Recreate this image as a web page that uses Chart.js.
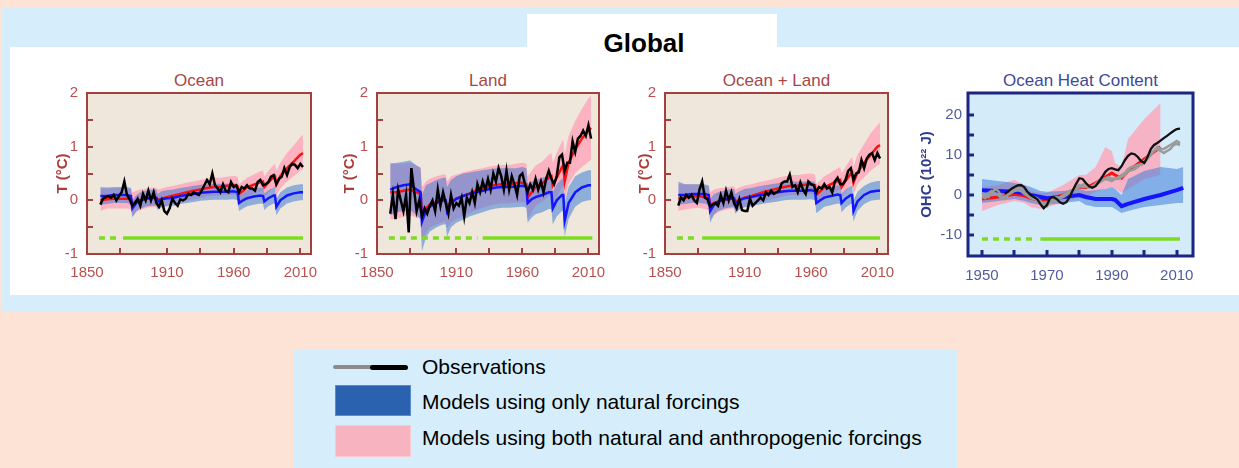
<!DOCTYPE html>
<html>
<head>
<meta charset="utf-8">
<script src="https://cdn.jsdelivr.net/npm/chart.js@4.4.1/dist/chart.umd.min.js"></script>
<style>
  body { margin: 0; width: 1239px; height: 468px; overflow: hidden; background: #fde3d5; font-family: "Liberation Sans", Arial, sans-serif; position: relative; }
  .abs { position: absolute; }
  #bluebox { left: 2px; top: 7px; width: 1237px; height: 304px; background: #d6eefb; }
  #white { left: 10px; top: 47px; width: 1229px; height: 248px; background: #fff; }
  #tab { left: 527px; top: 14px; width: 250px; height: 34px; background: #fff; }
  #global { left: 527px; top: 27px; width: 234px; text-align: center; font-weight: bold; font-size: 26px; line-height: 32px; color: #000; }
  .ptitle { top: 70px; height: 22px; line-height: 22px; text-align: center; font-size: 17px; }
  canvas { position: absolute; top: 85px; }
  #legend { left: 294px; top: 349px; width: 664px; height: 130px; background: #d6eefb; }
  .ltext { left: 422px; font-size: 21px; line-height: 24px; color: #000; }
</style>
</head>
<body>
<div class="abs" id="bluebox"></div>
<div class="abs" id="white"></div>
<div class="abs" id="tab"></div>
<div class="abs" id="global">Global</div>

<div class="abs ptitle" style="left:87px;width:224px;color:#a84646;">Ocean</div>
<div class="abs ptitle" style="left:377px;width:222px;color:#a84646;">Land</div>
<div class="abs ptitle" style="left:665px;width:223px;color:#a84646;">Ocean + Land</div>
<div class="abs ptitle" style="left:968px;width:225px;color:#3d4a94;">Ocean Heat Content</div>

<canvas id="ocean" width="282" height="195" style="left:40px"></canvas>
<canvas id="land" width="280" height="195" style="left:330px"></canvas>
<canvas id="oland" width="281" height="195" style="left:618px"></canvas>
<canvas id="ohc" width="299" height="195" style="left:905px"></canvas>

<div class="abs" id="legend"></div>
<div class="abs" style="left:333px;top:365px;width:40px;height:4px;background:#8c8c8c;border-radius:2px;"></div>
<div class="abs" style="left:370px;top:365px;width:38px;height:5px;background:#000;border-radius:3px;"></div>
<div class="abs" style="left:335px;top:385px;width:74px;height:29px;background:#2b62b0;border:1px solid #5a8ad0;"></div>
<div class="abs" style="left:335px;top:425px;width:74px;height:30px;background:#f8b3c1;border:1px solid #fbc8d2;"></div>
<div class="abs ltext" style="top:355px;">Observations</div>
<div class="abs ltext" style="top:390px;">Models using only natural forcings</div>
<div class="abs ltext" style="top:426px;">Models using both natural and anthropogenic forcings</div>

<script>
// --- years ---
const obsYears = [1860,1862,1864,1866,1868,1870,1872,1874,1876,1878,
  1880,1882,1884,1886,1888,1890,1892,1894,1896,1898,
  1900,1902,1904,1906,1908,1910,1912,1914,1916,1918,
  1920,1922,1924,1926,1928,1930,1932,1934,1936,1938,
  1940,1942,1944,1946,1948,1950,1952,1954,1956,1958,
  1960,1962,1964,1966,1968,1970,1972,1974,1976,1978,
  1980,1982,1984,1986,1988,1990,1992,1994,1996,1998,
  2000,2002,2004,2006,2008,2010,2012];

const modelYears = [1860,1865,1870,1875,1880,
  1883,1884,1887,1890,1895,
  1900,1902,1903,1906,1910,
  1915,1920,1925,1930,1935,
  1940,1945,1950,1955,1960,
  1963,1964,1967,1970,1975,
  1980,1982,1983,1986,1990,
  1991,1992,1995,2000,2005,
  2010,2012];

// --- Ocean ---
const oceanObs = [-0.08,0.03,0.06,0.08,0.05,0.10,0.00,0.08,0.15,0.35,
  0.10,0.02,-0.10,-0.05,0.03,-0.10,0.12,0.00,0.18,0.00,
  0.15,-0.05,-0.12,0.00,-0.20,-0.25,-0.15,0.03,-0.05,-0.10,
  0.02,0.00,0.03,0.12,0.10,0.15,0.12,0.10,0.18,0.28,
  0.38,0.30,0.50,0.28,0.22,0.15,0.30,0.18,0.15,0.34,
  0.25,0.28,0.15,0.25,0.22,0.28,0.22,0.22,0.18,0.34,
  0.38,0.28,0.30,0.34,0.44,0.47,0.30,0.40,0.44,0.60,
  0.47,0.62,0.68,0.66,0.60,0.68,0.62];
const oceanRed = [0.00,0.02,0.03,0.03,0.03,
  0.02,-0.05,-0.02,0.00,0.03,
  0.05,0.04,0.01,0.03,0.06,
  0.09,0.12,0.15,0.18,0.20,
  0.23,0.25,0.25,0.27,0.28,
  0.26,0.12,0.18,0.24,0.29,
  0.34,0.35,0.25,0.33,0.44,
  0.45,0.30,0.45,0.60,0.72,
  0.85,0.88];
const oceanRedLo = [-0.20,-0.15,-0.15,-0.15,-0.15,
  -0.17,-0.30,-0.22,-0.18,-0.14,
  -0.12,-0.13,-0.17,-0.13,-0.10,
  -0.07,-0.04,-0.01,0.02,0.04,
  0.07,0.09,0.09,0.10,0.11,
  0.08,-0.05,0.02,0.08,0.12,
  0.16,0.17,0.05,0.14,0.24,
  0.24,0.08,0.22,0.35,0.45,
  0.55,0.58];
const oceanRedHi = [0.22,0.22,0.22,0.23,0.22,
  0.21,0.15,0.18,0.20,0.22,
  0.24,0.23,0.20,0.22,0.25,
  0.27,0.30,0.33,0.35,0.38,
  0.40,0.42,0.42,0.44,0.46,
  0.44,0.30,0.36,0.42,0.48,
  0.54,0.55,0.45,0.55,0.66,
  0.68,0.55,0.70,0.88,1.02,
  1.18,1.22];
const oceanBlue = [0.08,0.08,0.10,0.10,0.10,
  0.08,-0.15,-0.05,0.00,0.04,
  0.05,0.05,-0.03,0.02,0.04,
  0.05,0.08,0.10,0.12,0.14,
  0.15,0.16,0.16,0.16,0.17,
  0.15,-0.05,0.00,0.04,0.07,
  0.09,0.08,-0.02,0.04,0.09,
  0.09,-0.12,0.00,0.09,0.13,
  0.15,0.15];
const oceanBlueLo = [-0.08,-0.07,-0.05,-0.05,-0.05,
  -0.08,-0.32,-0.20,-0.15,-0.11,
  -0.10,-0.10,-0.18,-0.13,-0.11,
  -0.10,-0.07,-0.05,-0.03,-0.01,
  0.00,0.01,0.01,0.01,0.02,
  0.00,-0.20,-0.15,-0.11,-0.08,
  -0.06,-0.07,-0.18,-0.11,-0.06,
  -0.06,-0.28,-0.15,-0.06,-0.02,
  0.00,0.00];
const oceanBlueHi = [0.25,0.24,0.25,0.25,0.25,
  0.23,0.00,0.10,0.15,0.19,
  0.20,0.20,0.12,0.17,0.19,
  0.20,0.23,0.25,0.27,0.29,
  0.30,0.31,0.31,0.31,0.32,
  0.30,0.10,0.15,0.19,0.22,
  0.24,0.23,0.13,0.19,0.24,
  0.24,0.03,0.15,0.24,0.28,
  0.30,0.30];

// --- Land ---
const landObs = [-0.25,0.10,-0.35,0.20,0.00,-0.20,0.10,-0.60,0.60,0.20,
  -0.20,0.00,-0.30,-0.15,-0.25,-0.10,0.00,-0.20,0.20,-0.10,
  0.15,-0.05,-0.25,0.10,-0.15,-0.05,-0.10,0.05,-0.30,0.05,
  -0.05,0.15,-0.05,0.30,0.15,0.35,0.20,0.40,0.20,0.50,
  0.35,0.60,0.45,0.20,0.55,0.20,0.45,0.30,0.10,0.45,
  0.50,0.30,0.15,0.30,0.20,0.40,0.20,0.35,0.15,0.40,
  0.55,0.40,0.30,0.45,0.80,0.85,0.55,0.70,0.70,1.10,
  0.90,1.15,1.20,1.30,1.20,1.40,1.15];
const landRed = [0.15,0.15,0.18,0.20,0.15,
  0.12,-0.25,-0.15,-0.08,-0.03,
  0.00,0.00,-0.12,-0.02,0.03,
  0.08,0.13,0.18,0.22,0.26,
  0.29,0.30,0.30,0.32,0.33,
  0.30,0.05,0.15,0.25,0.32,
  0.42,0.45,0.28,0.42,0.62,
  0.65,0.35,0.70,0.95,1.15,
  1.30,1.35];
const landRedLo = [-0.35,-0.35,-0.30,-0.28,-0.32,
  -0.35,-0.75,-0.60,-0.50,-0.45,
  -0.40,-0.40,-0.52,-0.42,-0.35,
  -0.30,-0.24,-0.18,-0.14,-0.10,
  -0.07,-0.06,-0.06,-0.04,-0.03,
  -0.06,-0.35,-0.22,-0.10,-0.02,
  0.08,0.10,-0.08,0.06,0.25,
  0.28,-0.02,0.30,0.50,0.62,
  0.72,0.75];
const landRedHi = [0.70,0.68,0.68,0.70,0.65,
  0.62,0.25,0.35,0.40,0.45,
  0.48,0.48,0.35,0.45,0.48,
  0.52,0.55,0.58,0.60,0.63,
  0.65,0.66,0.66,0.68,0.70,
  0.68,0.45,0.55,0.65,0.72,
  0.85,0.88,0.70,0.88,1.10,
  1.12,0.85,1.20,1.48,1.70,
  1.90,1.95];
const landBlue = [0.20,0.25,0.28,0.30,0.20,
  0.15,-0.40,-0.20,-0.12,-0.05,
  0.00,0.00,-0.20,-0.05,0.03,
  0.08,0.12,0.15,0.18,0.21,
  0.24,0.25,0.25,0.26,0.27,
  0.25,-0.05,0.02,0.06,0.10,
  0.15,0.15,-0.15,0.00,0.10,
  0.10,-0.38,-0.05,0.15,0.24,
  0.28,0.28];
const landBlueLo = [-0.28,-0.22,-0.20,-0.18,-0.28,
  -0.35,-0.95,-0.70,-0.58,-0.50,
  -0.45,-0.45,-0.68,-0.50,-0.42,
  -0.36,-0.30,-0.26,-0.22,-0.18,
  -0.15,-0.14,-0.14,-0.13,-0.12,
  -0.14,-0.42,-0.32,-0.26,-0.22,
  -0.16,-0.16,-0.45,-0.30,-0.20,
  -0.20,-0.68,-0.35,-0.12,-0.03,
  0.00,0.00];
const landBlueHi = [0.68,0.70,0.72,0.74,0.65,
  0.60,0.10,0.28,0.32,0.38,
  0.42,0.42,0.25,0.38,0.45,
  0.50,0.52,0.54,0.56,0.58,
  0.60,0.60,0.60,0.60,0.62,
  0.60,0.30,0.35,0.38,0.42,
  0.46,0.46,0.15,0.30,0.40,
  0.40,-0.05,0.25,0.45,0.52,
  0.56,0.56];

// --- Ocean + Land ---
const olObs = [-0.10,0.05,0.00,0.10,0.05,0.10,0.00,-0.05,0.20,0.35,
  0.05,0.02,-0.12,-0.08,-0.05,-0.10,0.10,-0.05,0.18,0.00,
  0.15,-0.05,-0.15,0.02,-0.18,-0.20,-0.20,0.03,-0.10,-0.05,
  0.00,0.05,0.00,0.15,0.10,0.18,0.12,0.15,0.18,0.32,
  0.35,0.35,0.48,0.25,0.28,0.15,0.33,0.20,0.12,0.35,
  0.30,0.28,0.15,0.25,0.22,0.30,0.22,0.25,0.15,0.35,
  0.42,0.30,0.30,0.38,0.55,0.60,0.38,0.50,0.52,0.75,
  0.60,0.78,0.85,0.88,0.75,0.88,0.78];
const olRed = [0.03,0.05,0.07,0.08,0.06,
  0.05,-0.08,-0.05,-0.02,0.01,
  0.03,0.03,-0.02,0.01,0.05,
  0.08,0.12,0.16,0.19,0.22,
  0.25,0.27,0.27,0.29,0.30,
  0.28,0.10,0.17,0.24,0.30,
  0.36,0.38,0.25,0.36,0.50,
  0.52,0.33,0.52,0.70,0.85,
  1.00,1.03];
const olRedLo = [-0.20,-0.17,-0.15,-0.14,-0.16,
  -0.18,-0.35,-0.27,-0.22,-0.18,
  -0.15,-0.15,-0.22,-0.16,-0.12,
  -0.08,-0.05,-0.01,0.02,0.05,
  0.08,0.10,0.10,0.11,0.12,
  0.09,-0.10,0.00,0.07,0.12,
  0.18,0.20,0.05,0.17,0.30,
  0.32,0.10,0.30,0.43,0.55,
  0.65,0.68];
const olRedHi = [0.30,0.30,0.30,0.30,0.28,
  0.27,0.15,0.20,0.22,0.24,
  0.26,0.26,0.20,0.24,0.27,
  0.30,0.33,0.36,0.39,0.42,
  0.45,0.47,0.47,0.49,0.50,
  0.48,0.30,0.38,0.45,0.52,
  0.60,0.62,0.50,0.62,0.78,
  0.80,0.62,0.85,1.05,1.25,
  1.40,1.45];
const olBlue = [0.10,0.10,0.12,0.12,0.12,
  0.10,-0.20,-0.08,-0.03,0.02,
  0.04,0.04,-0.06,0.00,0.04,
  0.06,0.09,0.11,0.13,0.15,
  0.17,0.18,0.18,0.18,0.19,
  0.17,-0.05,0.00,0.05,0.08,
  0.11,0.10,-0.05,0.03,0.10,
  0.10,-0.20,-0.02,0.10,0.16,
  0.18,0.18];
const olBlueLo = [-0.08,-0.07,-0.05,-0.05,-0.06,
  -0.10,-0.42,-0.27,-0.20,-0.15,
  -0.13,-0.13,-0.25,-0.17,-0.13,
  -0.11,-0.08,-0.06,-0.04,-0.02,
  0.00,0.01,0.01,0.01,0.02,
  0.00,-0.24,-0.18,-0.12,-0.09,
  -0.06,-0.07,-0.22,-0.14,-0.07,
  -0.07,-0.40,-0.20,-0.07,-0.01,
  0.01,0.01];
const olBlueHi = [0.35,0.30,0.30,0.30,0.30,
  0.27,0.02,0.12,0.15,0.19,
  0.21,0.21,0.12,0.17,0.21,
  0.23,0.26,0.28,0.30,0.32,
  0.34,0.35,0.35,0.35,0.36,
  0.34,0.12,0.17,0.22,0.25,
  0.28,0.27,0.12,0.20,0.27,
  0.27,0.00,0.16,0.27,0.33,
  0.36,0.36];

// --- Ocean heat content ---
const ohcObsYears = [1950,1951,1952,1953,1954,1955,1956,1957,1958,1959,
  1960,1961,1962,1963,1964,1965,1966,1967,1968,1969,
  1970,1971,1972,1973,1974,1975,1976,1977,1978,1979,
  1980,1981,1982,1983,1984,1985,1986,1987,1988,1989,
  1990,1991,1992,1993,1994,1995,1996,1997,1998,1999,
  2000,2001,2002,2003,2004,2005,2006,2007,2008,2009,
  2010,2011];
const ohcBlack = [null,null,null,null,null,null,null,0.3,0.8,1.5,
  2.0,2.4,2.5,2.0,0.8,0.0,-0.5,-1.0,-2.3,-3.3,
  -2.5,-0.8,-0.5,-1.0,-1.8,-2.2,-1.8,-0.5,1.2,2.8,
  4.2,4.0,3.0,2.2,1.8,2.2,3.3,4.5,5.8,6.5,
  6.7,6.4,6.2,7.2,8.7,9.8,10.4,10.2,9.5,8.5,
  8.0,9.5,11.5,12.5,13.0,13.6,14.2,14.8,15.4,16.0,
  16.5,16.6];
const ohcGrayA = [0.5,0.0,-0.5,0.5,1.5,1.0,-0.3,-0.5,0.3,1.0,
  1.5,1.8,1.5,0.8,0.2,-0.3,-0.5,-0.8,-1.5,-2.5,
  -2.8,-1.5,-0.8,-0.5,-0.8,-0.5,0.0,0.5,1.0,1.5,
  2.0,2.5,2.8,2.2,2.0,2.5,3.0,3.5,4.0,3.8,
  3.5,4.0,4.5,5.0,5.5,6.5,7.0,7.2,7.5,7.5,
  8.0,9.0,10.0,11.0,12.0,11.5,11.5,12.0,12.5,13.0,
  13.5,13.0];
const ohcGrayB = [-0.5,-0.8,0.5,1.0,0.5,0.0,-0.8,-1.0,0.0,0.5,
  1.0,1.2,1.0,0.3,-0.2,-0.8,-1.0,-1.2,-2.0,-2.0,
  -2.2,-1.8,-1.5,-1.0,-0.5,0.0,0.5,1.0,1.2,1.8,
  2.5,2.0,2.0,1.8,2.2,2.8,3.5,4.0,4.2,4.5,
  4.0,4.2,4.0,4.5,5.0,6.0,6.2,6.5,7.0,7.8,
  8.5,9.5,10.5,11.0,11.5,11.0,10.5,11.0,11.5,12.5,
  12.8,12.5];
const ohcModelYears = [1950,1955,1960,1963,1965,1968,1970,1975,1980,1982,
  1985,1988,1990,1991,1993,1995,2000,2005,2010,2012];
const ohcRed = [-1.0,-0.5,0.2,-0.2,-0.8,-1.3,-1.2,0.0,2.0,1.8,
  3.0,4.5,5.5,5.0,4.2,6.0,9.0,12.0,null,null];
const ohcRedLo = [-4.0,-2.5,-1.5,-2.0,-3.0,-3.5,-3.0,-2.0,-0.5,-0.5,
  0.8,1.5,2.0,1.5,0.5,1.5,4.0,5.0,null,null];
const ohcRedHi = [2.0,2.5,3.8,2.5,1.0,0.5,0.5,2.5,5.0,5.0,
  7.0,12.0,11.0,8.0,7.0,14.0,19.0,23.0,null,null];
const ohcBlue = [1.2,1.0,0.8,0.5,0.0,-0.5,-0.8,-0.5,0.0,-0.5,
  -1.0,-1.0,-1.0,-1.2,-2.8,-2.2,-1.0,0.0,1.2,1.8];
const ohcBlueLo = [-2.0,-1.5,-1.0,-1.5,-2.0,-2.5,-2.5,-2.0,-1.5,-2.5,
  -3.0,-3.0,-3.0,-3.5,-4.5,-4.0,-3.0,-2.5,-2.0,-2.0];
const ohcBlueHi = [4.0,3.5,3.0,2.5,2.0,1.0,0.8,1.0,1.5,1.0,
  1.2,1.5,2.0,1.5,0.0,4.0,6.0,7.0,6.5,7.0];

// green bars (years covered, dashed part then solid part)
const oceanGreenDash = [1859, 1872], oceanGreenSolid = [1877, 2012];
const landGreenDash = [1859, 1926], landGreenSolid = [1930, 2013];
const olGreenDash = [1859, 1872], olGreenSolid = [1878, 2012];
const ohcGreenDash = [1950, 1966], ohcGreenSolid = [1968, 2011];
const tempGreenLevel = [-0.7, -0.7];
const ohcGreenLevel = [-11, -11];

// axes
const tempXLabels = [1850, 1910, 1960, 2010];
const tempYLabels = [-1, 0, 1, 2];
const tempXMarks = [1875, 1910, 1935, 1960, 1985, 2010];
const tempYMarks = [-0.5, 0, 0.5, 1, 1.5];
const ohcXLabels = [1950, 1970, 1990, 2010];
const ohcYLabels = [-10, 0, 10, 20];
const ohcXMarks = [1950, 1960, 1970, 1980, 1990, 2000, 2010];
const ohcYMarks = [-10, -5, 0, 5, 10, 15, 20];

Chart.defaults.font.family = '"Liberation Sans", Arial, sans-serif';

const PINK = 'rgba(255,165,185,0.8)';
const BLUEBAND = 'rgba(55,120,215,0.52)';

// plot background, frame and inward tick marks
const framePlugin = {
  id: 'frame',
  beforeDraw(chart, args, o) {
    const a = chart.chartArea, c = chart.ctx;
    c.save();
    c.fillStyle = o.bg;
    c.fillRect(a.left, a.top, a.right - a.left, a.bottom - a.top);
    c.restore();
  },
  afterDraw(chart, args, o) {
    const a = chart.chartArea, c = chart.ctx;
    const xs = chart.scales.x, ys = chart.scales.y;
    c.save();
    c.strokeStyle = o.color;
    c.lineWidth = o.width;
    c.beginPath();
    o.xMarks.forEach(v => {
      const px = Math.round(xs.getPixelForValue(v));
      c.moveTo(px, a.bottom); c.lineTo(px, a.bottom - 6);
    });
    o.yMarks.forEach(v => {
      const py = Math.round(ys.getPixelForValue(v));
      c.moveTo(a.left, py); c.lineTo(a.left + 6, py);
    });
    c.stroke();
    c.strokeRect(a.left, a.top, a.right - a.left, a.bottom - a.top);
    c.restore();
  }
};

function pts(xs, ys) {
  return xs.map((x, i) => ({ x: x, y: ys[i] })).filter(p => p.y !== null && p.y !== undefined);
}
function line(xs, ys, color, width, order, dash) {
  return { data: pts(xs, ys), borderColor: color, borderWidth: width, pointRadius: 0,
           fill: false, order: order, borderDash: dash || [], borderCapStyle: 'butt' };
}
function band(xs, lo, hi, color, order) {
  return [
    { data: pts(xs, lo), borderWidth: 0, borderColor: 'rgba(0,0,0,0)', pointRadius: 0, fill: false, order: order },
    { data: pts(xs, hi), borderWidth: 0, borderColor: 'rgba(0,0,0,0)', pointRadius: 0, fill: '-1', backgroundColor: color, order: order }
  ];
}

function makePanel(id, p) {
  new Chart(document.getElementById(id), {
    type: 'line',
    data: { datasets: p.datasets },
    options: {
      responsive: false,
      animation: false,
      devicePixelRatio: 1,
      layout: { padding: { top: 8, right: 11, left: 0, bottom: 0 } },
      elements: { line: { tension: 0 } },
      plugins: {
        legend: { display: false },
        tooltip: { enabled: false },
        frame: { bg: p.bg, color: p.frame, width: p.frameWidth, xMarks: p.xMarks, yMarks: p.yMarks }
      },
      scales: {
        x: {
          type: 'linear', min: p.xMin, max: p.xMax,
          grid: { display: false, drawTicks: false },
          border: { display: false },
          afterBuildTicks: s => { s.ticks = p.xLabels.map(v => ({ value: v })); },
          afterFit: s => { s.height = p.xHeight; s.paddingLeft = 0; s.paddingRight = 0; },
          ticks: { font: { size: 15 }, color: p.tickColor, padding: p.xPad, maxRotation: 0, autoSkip: false,
                   callback: v => String(v) }
        },
        y: {
          min: p.yMin, max: p.yMax,
          grid: { display: false, drawTicks: false },
          border: { display: false },
          afterBuildTicks: s => { s.ticks = p.yLabels.map(v => ({ value: v })); },
          afterFit: s => { s.width = p.yWidth; s.paddingTop = 0; s.paddingBottom = 0; },
          ticks: { font: { size: 15 }, color: p.tickColor, padding: p.yPad, autoSkip: false,
                   callback: v => String(v) },
          title: { display: true, text: p.yTitle, color: p.titleColor,
                   font: { size: 15, weight: 'bold' }, padding: { top: p.titlePad, bottom: 0 } }
        }
      }
    },
    plugins: [framePlugin]
  });
}

function tempPanel(id, yWidth, titlePad, obs, red, redLo, redHi, blue, blueLo, blueHi, gDash, gSolid) {
  makePanel(id, {
    datasets: [
      line(obsYears, obs, '#000000', 2.5, 1),
      line(gSolid, tempGreenLevel, '#7ddc22', 3.5, 2),
      line(gDash, tempGreenLevel, '#7ddc22', 3.5, 2, [6, 5]),
      line(modelYears, blue, '#1414ff', 2.5, 3),
      line(modelYears, red, '#ff1010', 2.5, 4),
      ...band(modelYears, blueLo, blueHi, BLUEBAND, 5),
      ...band(modelYears, redLo, redHi, PINK, 7)
    ],
    bg: '#efe7dc', frame: '#a4403d', frameWidth: 2,
    xMin: 1850, xMax: 2018, yMin: -1, yMax: 2,
    xLabels: tempXLabels, yLabels: tempYLabels, xMarks: tempXMarks, yMarks: tempYMarks,
    xHeight: 26, yWidth: yWidth, xPad: 10, yPad: 9,
    tickColor: '#b9504f', yTitle: 'T (°C)', titleColor: '#b03a3a', titlePad: titlePad
  });
}

tempPanel('ocean', 47, 14, oceanObs, oceanRed, oceanRedLo, oceanRedHi, oceanBlue, oceanBlueLo, oceanBlueHi, oceanGreenDash, oceanGreenSolid);
tempPanel('land', 47, 11, landObs, landRed, landRedLo, landRedHi, landBlue, landBlueLo, landBlueHi, landGreenDash, landGreenSolid);
tempPanel('oland', 47, 18, olObs, olRed, olRedLo, olRedHi, olBlue, olBlueLo, olBlueHi, olGreenDash, olGreenSolid);

makePanel('ohc', {
  datasets: [
    line(ohcObsYears, ohcBlack, '#111111', 2.3, 1),
    line(ohcObsYears, ohcGrayA, '#9a9a9a', 2.5, 2),
    line(ohcObsYears, ohcGrayB, '#9a9a9a', 2.5, 2),
    line(ohcGreenSolid, ohcGreenLevel, '#7ddc22', 3.5, 3),
    line(ohcGreenDash, ohcGreenLevel, '#7ddc22', 3.5, 3, [6, 5]),
    line(ohcModelYears, ohcBlue, '#1414ff', 4, 4),
    line(ohcModelYears, ohcRed, '#ff1010', 3, 5),
    ...band(ohcModelYears, ohcBlueLo, ohcBlueHi, BLUEBAND, 6),
    ...band(ohcModelYears, ohcRedLo, ohcRedHi, PINK, 8)
  ],
  bg: '#d4ebfa', frame: '#1c2581', frameWidth: 3,
  xMin: 1945.7, xMax: 2015, yMin: -15.25, yMax: 25.5,
  xLabels: ohcXLabels, yLabels: ohcYLabels, xMarks: ohcXMarks, yMarks: ohcYMarks,
  xHeight: 24, yWidth: 63, xPad: 11, yPad: 6,
  tickColor: '#505c9e', yTitle: 'OHC (10²² J)', titleColor: '#2e3b8f', titlePad: 13
});
</script>
</body>
</html>
